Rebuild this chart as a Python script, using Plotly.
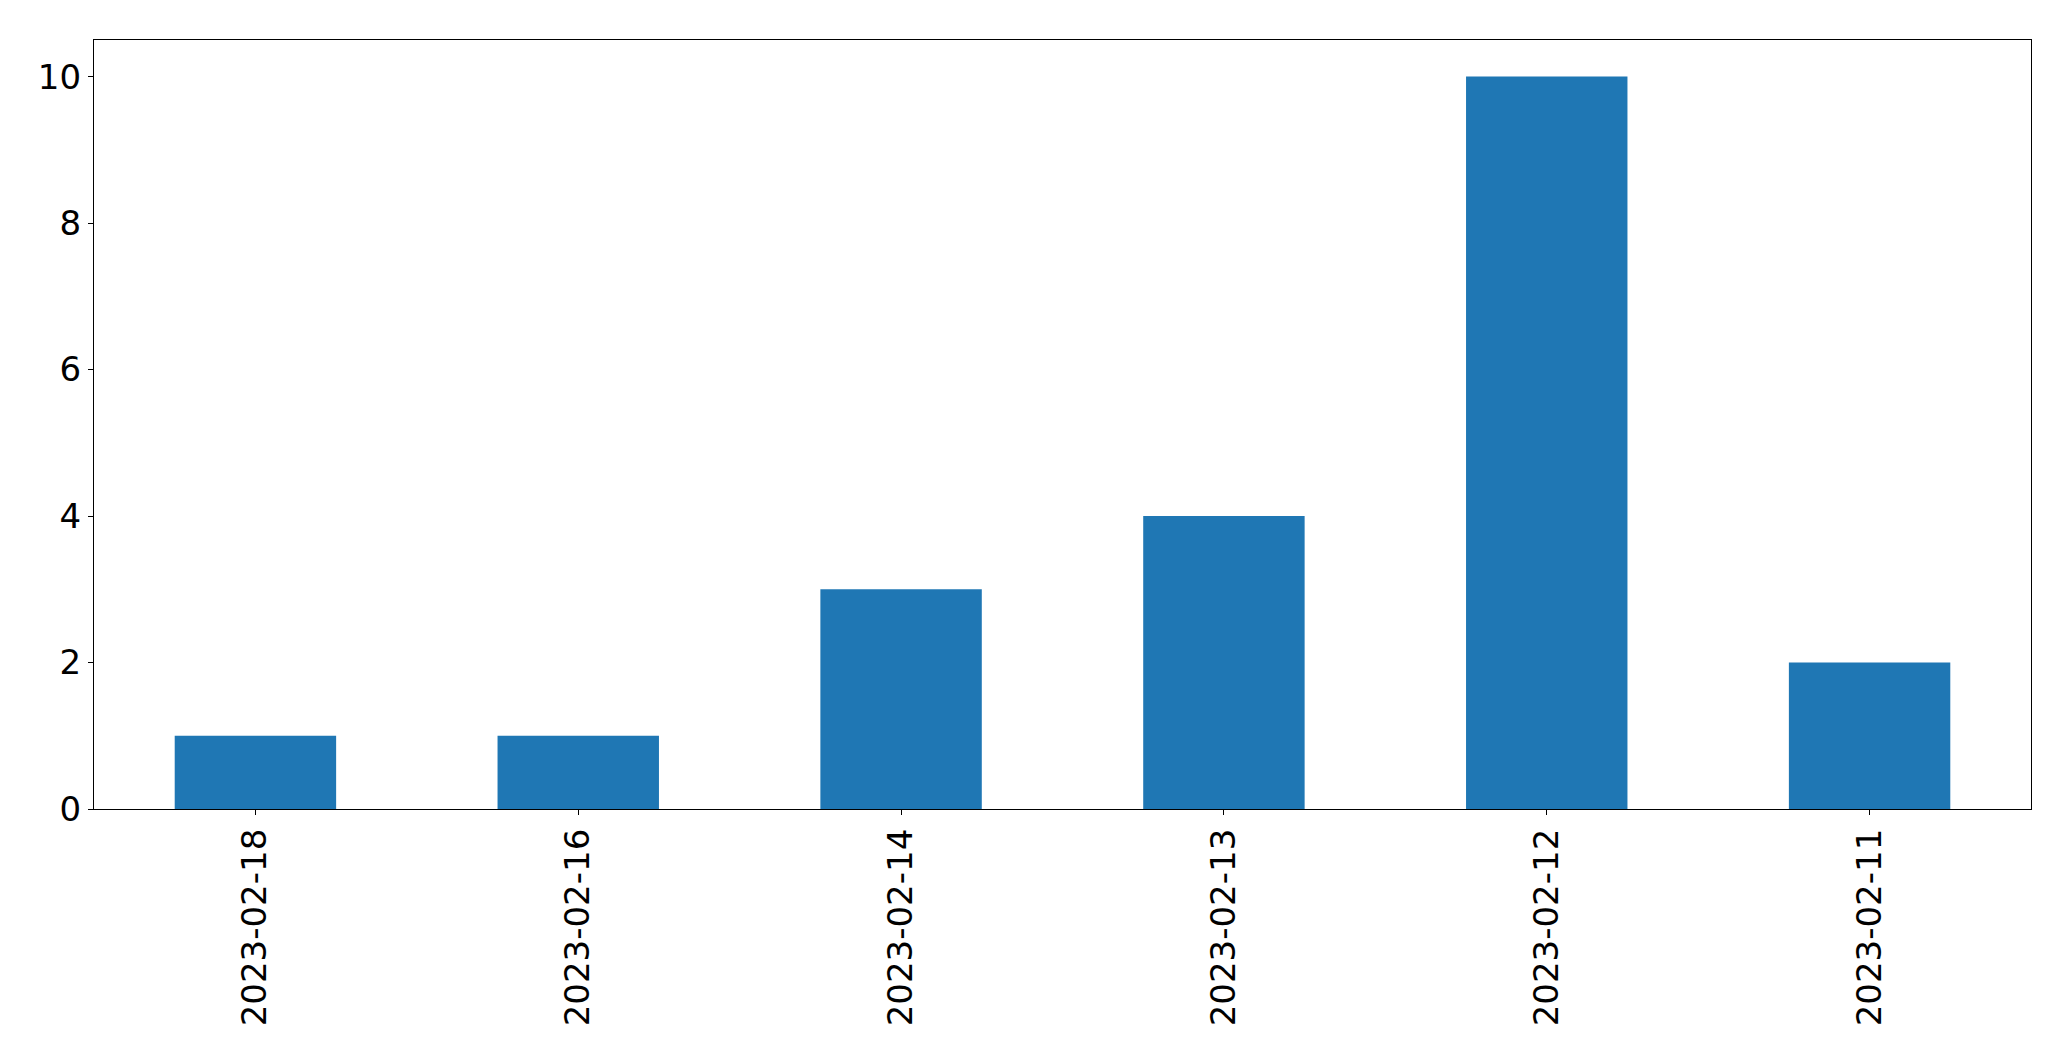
import plotly.graph_objects as go

dates = ["2023-02-18", "2023-02-16", "2023-02-14", "2023-02-13", "2023-02-12", "2023-02-11"]
counts = [1, 1, 3, 4, 10, 2]
y_ticks = [0, 2, 4, 6, 8, 10]

fig = go.Figure(go.Bar(x=dates, y=counts, width=0.5, marker=dict(color="#1f77b4", line=dict(width=0))))

font = dict(family="DejaVu Sans", size=34, color="black")
fig.update_layout(
    width=2063, height=1053,
    margin=dict(l=86, r=40, t=32, b=252),
    plot_bgcolor="white", paper_bgcolor="white",
    font=font, showlegend=False,
)
fig.update_xaxes(type="category", range=[-0.5, 5.5], tickangle=-90,
                 showline=True, linecolor="black", linewidth=1.3, mirror=True,
                 ticks="outside", ticklen=5, tickcolor="black", tickwidth=1.3,
                 showgrid=False, tickfont=font, automargin=False)
fig.update_yaxes(range=[0, 10.5], tickvals=y_ticks,
                 showline=True, linecolor="black", linewidth=1.3, mirror=True,
                 ticks="outside", ticklen=5, tickcolor="black", tickwidth=1.3,
                 showgrid=False, zeroline=False, tickfont=font, automargin=False)

fig.write_html("out.html")
